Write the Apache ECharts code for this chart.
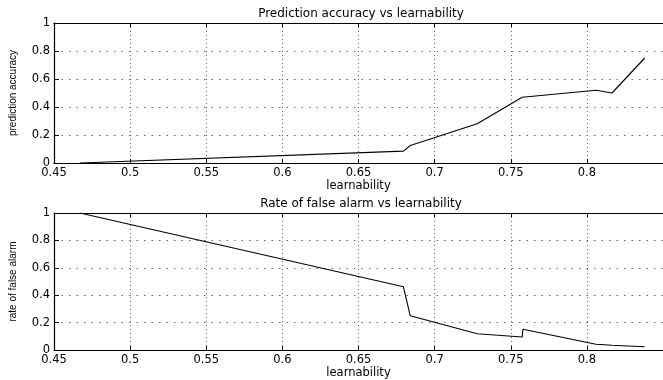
<!DOCTYPE html>
<html>
<head>
<meta charset="utf-8">
<script src="https://cdn.jsdelivr.net/npm/echarts@6/dist/echarts.min.js"></script>
<style>
  html, body { margin: 0; padding: 0; background: #fff; }
  #chart { width: 663px; height: 380px; }
</style>
</head>
<body>
<div id="chart"></div>
<script>
// learnability values shared by both panels
const learnability = [0.467, 0.6795, 0.684, 0.728, 0.7575, 0.758, 0.806, 0.8165, 0.838]
const predictionAccuracy = [0, 0.085, 0.125, 0.28, 0.47, 0.472, 0.52, 0.50, 0.75]
const falseAlarmRate = [1.0, 0.462, 0.25, 0.119, 0.095, 0.152, 0.043, 0.035, 0.024]

const titles = ['Prediction accuracy vs learnability', 'Rate of false alarm vs learnability']
const yNames = ['prediction accuracy', 'rate of false alarm']

const pairs = ys => learnability.map((x, i) => [x, ys[i]])

const chart = echarts.init(document.getElementById('chart'))

const gridTops = [23, 213]

const dotV = { color: '#666', width: 1, type: [1, 3] }
const dotH = { color: '#666', width: 1, type: [1.5, 6] }

const xAxes = []
const yAxes = []
gridTops.forEach((t, i) => {
    // bottom axis with labels
    xAxes.push({
        type: 'value',
        gridIndex: i,
        min: 0.45,
        max: 0.85,
        interval: 0.05,
        name: 'learnability',
        nameLocation: 'middle',
        nameGap: 12,
        nameTextStyle: { color: '#000', fontSize: 11.5, fontFamily: 'DejaVu Sans' },
        axisLine: { show: true, lineStyle: { color: '#000', width: 1.2 } },
        axisTick: { show: true, inside: true, length: 4, lineStyle: { color: '#000' } },
        axisLabel: { color: '#000', fontSize: 11.5, margin: 4, showMaxLabel: false, fontFamily: 'DejaVu Sans' },
        splitLine: { show: true, lineStyle: dotV }
    })
    // top border with mirrored ticks
    xAxes.push({
        type: 'value',
        gridIndex: i,
        position: 'top',
        min: 0.45,
        max: 0.85,
        interval: 0.05,
        axisLine: { show: true, lineStyle: { color: '#000', width: 1.2 } },
        axisTick: { show: true, inside: true, length: 4, lineStyle: { color: '#000' } },
        axisLabel: { show: false },
        splitLine: { show: false }
    })
    yAxes.push({
        type: 'value',
        gridIndex: i,
        min: 0,
        max: 1,
        interval: 0.2,
        name: yNames[i],
        nameLocation: 'middle',
        nameGap: 36,
        nameTextStyle: { color: '#000', fontSize: 10, fontFamily: 'Liberation Sans' },
        axisLine: { show: true, lineStyle: { color: '#000', width: 1.2 } },
        axisTick: { show: true, inside: true, length: 5, lineStyle: { color: '#000' } },
        axisLabel: { color: '#000', fontSize: 11.5, margin: 4, fontFamily: 'DejaVu Sans' },
        splitLine: { show: true, lineStyle: dotH }
    })
})

const option = {
    animation: false,
    backgroundColor: '#fff',
    textStyle: { fontFamily: 'DejaVu Sans' },
    title: titles.map((text, i) => ({
        text: text,
        left: 361,
        textAlign: 'center',
        top: gridTops[i] - 15,
        padding: 0,
        textStyle: { color: '#000', fontSize: 12, fontWeight: 'normal', fontFamily: 'DejaVu Sans' }
    })),
    grid: gridTops.map(t => ({ left: 54, right: -5, top: t, height: 140 })),
    xAxis: xAxes,
    yAxis: yAxes,
    series: [
        {
            type: 'line',
            xAxisIndex: 0,
            yAxisIndex: 0,
            data: pairs(predictionAccuracy),
            showSymbol: false,
            lineStyle: { color: '#000', width: 1.1 }
        },
        {
            type: 'line',
            xAxisIndex: 2,
            yAxisIndex: 1,
            data: pairs(falseAlarmRate),
            showSymbol: false,
            lineStyle: { color: '#000', width: 1.1 }
        }
    ]
}

chart.setOption(option)
</script>
</body>
</html>
